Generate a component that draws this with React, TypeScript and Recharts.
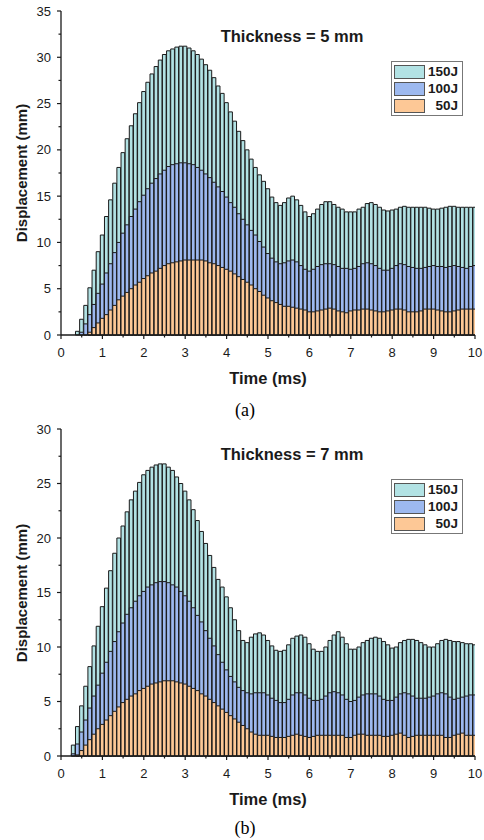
import React from 'react';
import { ComposedChart, Bar, XAxis, YAxis } from 'recharts';

// time stamps (ms), one bar every 0.1 ms
const times = [
  0.1, 0.2, 0.3, 0.4, 0.5, 0.6, 0.7, 0.8, 0.9, 1.0,
  1.1, 1.2, 1.3, 1.4, 1.5, 1.6, 1.7, 1.8, 1.9, 2.0,
  2.1, 2.2, 2.3, 2.4, 2.5, 2.6, 2.7, 2.8, 2.9, 3.0,
  3.1, 3.2, 3.3, 3.4, 3.5, 3.6, 3.7, 3.8, 3.9, 4.0,
  4.1, 4.2, 4.3, 4.4, 4.5, 4.6, 4.7, 4.8, 4.9, 5.0,
  5.1, 5.2, 5.3, 5.4, 5.5, 5.6, 5.7, 5.8, 5.9, 6.0,
  6.1, 6.2, 6.3, 6.4, 6.5, 6.6, 6.7, 6.8, 6.9, 7.0,
  7.1, 7.2, 7.3, 7.4, 7.5, 7.6, 7.7, 7.8, 7.9, 8.0,
  8.1, 8.2, 8.3, 8.4, 8.5, 8.6, 8.7, 8.8, 8.9, 9.0,
  9.1, 9.2, 9.3, 9.4, 9.5, 9.6, 9.7, 9.8, 9.9, 10.0,
];

// (a) thickness 5 mm
const a150 = [
  0, 0, 0, 0.4, 1.7, 3.2, 5.1, 7.0, 9.0, 10.8,
  12.8, 14.6, 16.4, 18.1, 19.7, 21.2, 22.6, 23.9, 25.1, 26.3,
  27.3, 28.2, 29.0, 29.7, 30.3, 30.7, 30.9, 31.1, 31.2, 31.2,
  31.0, 30.7, 30.3, 29.8, 29.2, 28.6, 27.8, 26.9, 26.1, 25.1,
  24.1, 23.1, 22.0, 21.0, 20.0, 19.0, 18.1, 17.3, 16.6, 15.8,
  14.9, 14.3, 14.0, 14.3, 14.8, 15.0, 14.6, 14.0, 13.3, 12.8,
  13.1, 13.6, 14.1, 14.4, 14.4, 14.1, 13.8, 13.6, 13.3, 13.3,
  13.3, 13.6, 13.8, 14.2, 14.3, 14.1, 13.8, 13.5, 13.4, 13.5,
  13.6, 13.8, 13.9, 13.8, 13.8, 13.8, 13.8, 13.8, 13.7, 13.6,
  13.6, 13.7, 13.8, 13.9, 13.9, 13.8, 13.8, 13.8, 13.8, 13.8,
];
const a100 = [
  0, 0, 0, 0, 0.3, 1.2, 2.2, 3.3, 4.5, 5.5,
  6.7, 7.7, 8.9, 10.0, 11.0, 11.9, 12.8, 13.6, 14.4, 15.1,
  15.8, 16.4, 16.9, 17.4, 17.8, 18.2, 18.4, 18.5, 18.6, 18.6,
  18.5, 18.4, 18.1, 17.8, 17.4, 17.0, 16.5, 16.0, 15.5, 14.9,
  14.3, 13.8, 13.1, 12.5, 11.9, 11.3, 10.8, 10.1, 9.5, 8.8,
  8.3, 7.9, 7.7, 7.8, 8.0, 8.1, 7.9, 7.5, 7.1, 6.9,
  7.1, 7.4, 7.6, 7.7, 7.7, 7.6, 7.4, 7.2, 7.2, 7.1,
  7.2, 7.4, 7.7, 7.8, 7.7, 7.5, 7.2, 7.0, 7.0, 7.2,
  7.5, 7.7, 7.6, 7.4, 7.3, 7.2, 7.2, 7.3, 7.4, 7.5,
  7.4, 7.4, 7.3, 7.4, 7.5, 7.4, 7.3, 7.2, 7.4, 7.5,
];
const a50 = [
  0, 0, 0, 0, 0, 0, 0.3, 0.8, 1.3, 1.8,
  2.2, 2.7, 3.2, 3.8, 4.2, 4.6, 5.0, 5.4, 5.7, 6.1,
  6.4, 6.7, 6.9, 7.2, 7.5, 7.7, 7.8, 7.9, 8.0, 8.1,
  8.1, 8.1, 8.1, 8.1, 8.0, 7.8, 7.7, 7.5, 7.3, 7.1,
  6.9, 6.6, 6.3, 6.0, 5.7, 5.4, 5.0, 4.7, 4.3, 4.0,
  3.7, 3.5, 3.3, 3.1, 3.1, 3.0, 2.9, 2.8, 2.7, 2.5,
  2.5, 2.6, 2.7, 2.8, 2.9, 2.8, 2.6, 2.5, 2.4, 2.6,
  2.7, 2.7, 2.8, 2.8, 2.7, 2.6, 2.5, 2.5, 2.6, 2.7,
  2.8, 2.8, 2.7, 2.5, 2.5, 2.5, 2.6, 2.8, 2.8, 2.8,
  2.7, 2.6, 2.5, 2.5, 2.6, 2.7, 2.8, 2.8, 2.8, 2.8,
];

// (b) thickness 7 mm
const b150 = [
  0, 0, 1.0, 2.7, 4.6, 6.4, 8.2, 10.1, 11.9, 13.7,
  15.4, 17.0, 18.6, 20.0, 21.1, 22.4, 23.5, 24.3, 25.1, 25.8,
  26.2, 26.5, 26.7, 26.8, 26.8, 26.5, 26.2, 25.6, 25.0, 24.3,
  23.5, 22.6, 21.6, 20.6, 19.5, 18.4, 17.3, 16.2, 15.5, 14.6,
  13.6, 12.5, 11.5, 10.6, 10.4, 10.9, 11.2, 11.3, 11.1, 10.6,
  10.1, 9.7, 9.6, 9.7, 10.2, 10.8, 11.0, 11.1, 10.9, 10.3,
  9.8, 9.6, 9.6, 10.0, 10.6, 11.1, 11.4, 10.9, 10.3, 9.8,
  9.8, 10.0, 10.4, 10.6, 10.8, 10.9, 10.8, 10.5, 10.2, 9.9,
  10.0, 10.4, 10.6, 10.7, 10.7, 10.6, 10.4, 10.2, 10.0, 10.0,
  10.3, 10.6, 10.7, 10.6, 10.5, 10.5, 10.4, 10.3, 10.3, 10.2,
];
const b100 = [
  0, 0, 0.2, 1.1, 2.2, 3.3, 4.4, 5.5, 6.5, 7.6,
  8.6, 9.6, 10.5, 11.4, 12.2, 13.0, 13.6, 14.2, 14.7, 15.1,
  15.5, 15.7, 15.9, 16.0, 16.0, 15.9, 15.7, 15.5, 15.1, 14.7,
  14.2, 13.6, 12.9, 12.3, 11.5, 10.8, 10.1, 9.3, 8.6, 7.9,
  7.3, 6.8, 6.3, 6.0, 5.8, 5.7, 5.8, 5.8, 5.8, 5.6,
  5.3, 5.1, 4.9, 4.9, 5.2, 5.6, 5.8, 5.8, 5.6, 5.3,
  5.1, 5.1, 5.2, 5.5, 5.8, 5.9, 5.8, 5.6, 5.2, 5.0,
  5.1, 5.4, 5.6, 5.7, 5.7, 5.7, 5.5, 5.2, 5.1, 5.1,
  5.4, 5.7, 5.8, 5.7, 5.5, 5.3, 5.3, 5.3, 5.4, 5.5,
  5.7, 5.8, 5.7, 5.4, 5.2, 5.3, 5.4, 5.5, 5.6, 5.6,
];
const b50 = [
  0, 0, 0, 0.1, 0.5, 1.0, 1.5, 2.0, 2.5, 2.9,
  3.3, 3.7, 4.1, 4.5, 4.9, 5.2, 5.5, 5.7, 6.0, 6.2,
  6.4, 6.6, 6.7, 6.8, 6.9, 6.9, 6.9, 6.8, 6.7, 6.6,
  6.4, 6.2, 6.0, 5.7, 5.5, 5.2, 4.9, 4.6, 4.3, 4.0,
  3.7, 3.4, 3.1, 2.8, 2.5, 2.2, 2.0, 1.9, 1.9, 1.9,
  1.8, 1.7, 1.7, 1.7, 1.8, 1.9, 2.0, 1.9, 1.8, 1.7,
  1.8, 1.9, 1.9, 1.9, 1.9, 1.9, 1.9, 1.9, 1.7, 1.7,
  1.9, 2.0, 2.0, 1.9, 1.9, 1.9, 1.9, 1.8, 1.8, 1.9,
  2.0, 2.1, 1.9, 1.7, 1.8, 1.9, 1.9, 1.9, 1.9, 1.9,
  1.9, 1.9, 1.7, 1.7, 1.9, 2.0, 2.1, 1.9, 1.9, 1.9,
];

const seriesNames = ['150J', '100J', '50J'];
const seriesColors = ['#b2e2e4', '#9db9ef', '#fdc896'];

const xTicks = [0, 0.5, 1, 1.5, 2, 2.5, 3, 3.5, 4, 4.5, 5, 5.5, 6, 6.5, 7, 7.5, 8, 8.5, 9, 9.5, 10];
const yTicksA = [0, 2.5, 5, 7.5, 10, 12.5, 15, 17.5, 20, 22.5, 25, 27.5, 30, 32.5, 35];
const yTicksB = [0, 2.5, 5, 7.5, 10, 12.5, 15, 17.5, 20, 22.5, 25, 27.5, 30];

const FONT = '"Liberation Sans", Arial, sans-serif';
const INK = '#1a1a1a';

const XTick = (props: any) => {
  const { x, y, payload } = props;
  const major = Number.isInteger(payload.value);
  return (
    <g>
      <line x1={x} x2={x} y1={y} y2={y + (major ? 4 : 2.5)} stroke={INK} strokeWidth={1.2} />
      {major && (
        <text x={x} y={y + 17} dy="0.35em" textAnchor="middle" fontSize={13} fontFamily={FONT} fill={INK}>
          {payload.value}
        </text>
      )}
    </g>
  );
};

const YTick = (props: any) => {
  const { x, y, payload } = props;
  const major = payload.value % 5 === 0;
  return (
    <g>
      <line x1={x - (major ? 4 : 2.5)} x2={x} y1={y} y2={y} stroke={INK} strokeWidth={1.2} />
      {major && (
        <text x={x - 10} y={y} dy="0.35em" textAnchor="end" fontSize={13} fontFamily={FONT} fill={INK}>
          {payload.value}
        </text>
      )}
    </g>
  );
};

function Panel({ s150, s100, s50, yMax, yTicks, title, caption, marginTop, marginBottom, captionTop }: any) {
  const rows = times.map((t, i) => ({ t, e150: s150[i], e100: s100[i], e50: s50[i] }));
  const plotTop = marginTop;
  const plotBottom = 420 - marginBottom - 20;
  return (
    <div style={{ position: 'relative', width: 484, height: 420 }}>
      <ComposedChart
        width={484}
        height={420}
        data={rows}
        margin={{ top: marginTop, right: 9, left: 21, bottom: marginBottom }}
      >
        <XAxis
          xAxisId="main"
          dataKey="t"
          type="number"
          domain={[0, 10]}
          ticks={xTicks}
          interval={0}
          allowDataOverflow
          tickSize={0}
          tickMargin={0}
          tick={<XTick />}
          height={20}
          axisLine={{ stroke: INK, strokeWidth: 1.3 }}
        />
        <XAxis xAxisId="x2" dataKey="t" type="number" domain={[0, 10]} allowDataOverflow hide />
        <XAxis xAxisId="x3" dataKey="t" type="number" domain={[0, 10]} allowDataOverflow hide />
        <XAxis
          xAxisId="frame"
          orientation="top"
          dataKey="t"
          type="number"
          domain={[0, 10]}
          tick={false}
          tickLine={false}
          height={0}
          axisLine={{ stroke: INK, strokeWidth: 1.3 }}
        />
        <YAxis
          type="number"
          domain={[0, yMax]}
          ticks={yTicks}
          interval={0}
          width={40}
          tickSize={0}
          tickMargin={0}
          tick={<YTick />}
          axisLine={{ stroke: INK, strokeWidth: 1.3 }}
        />
        <YAxis
          yAxisId="frame"
          orientation="right"
          width={0}
          tick={false}
          tickLine={false}
          axisLine={{ stroke: INK, strokeWidth: 1.3 }}
        />
        <Bar xAxisId="main" dataKey="e150" fill={seriesColors[0]} stroke={INK} strokeWidth={1} barSize={4.14} isAnimationActive={false} />
        <Bar xAxisId="x2" dataKey="e100" fill={seriesColors[1]} stroke={INK} strokeWidth={1} barSize={4.14} isAnimationActive={false} />
        <Bar xAxisId="x3" dataKey="e50" fill={seriesColors[2]} stroke={INK} strokeWidth={1} barSize={4.14} isAnimationActive={false} />
      </ComposedChart>

      <div style={{ position: 'absolute', left: 0, width: 584, top: plotTop + 16, textAlign: 'center', fontFamily: FONT, fontWeight: 'bold', fontSize: 16.5, color: INK, lineHeight: '19px' }}>
        {title}
      </div>

      <div style={{ position: 'absolute', left: 391, top: plotTop + 50, width: 70, border: '1px solid #777', background: '#fff', padding: '1px 0' }}>
        {seriesNames.map((name, i) => (
          <div key={name} style={{ display: 'flex', alignItems: 'center', height: 17 }}>
            <div style={{ width: 31, height: 14, marginLeft: 2, background: seriesColors[i], border: '1px solid #555', boxSizing: 'border-box' }} />
            <div style={{ flex: 1, textAlign: 'right', paddingRight: 4, fontFamily: FONT, fontWeight: 'bold', fontSize: 13.5, color: INK }}>{name}</div>
          </div>
        ))}
      </div>

      <div style={{ position: 'absolute', left: 22, top: (plotTop + plotBottom) / 2, transform: 'translate(-50%, -50%) rotate(-90deg)', whiteSpace: 'nowrap', fontFamily: FONT, fontWeight: 'bold', fontSize: 15, color: INK, lineHeight: '18px' }}>
        Displacement (mm)
      </div>

      <div style={{ position: 'absolute', left: 0, width: 536, top: plotBottom + 34, textAlign: 'center', fontFamily: FONT, fontWeight: 'bold', fontSize: 16.5, color: INK, lineHeight: '18px' }}>
        Time (ms)
      </div>

      <div style={{ position: 'absolute', left: 0, width: 490, top: captionTop, textAlign: 'center', fontFamily: '"Liberation Serif", "Times New Roman", serif', fontSize: 18, color: '#000', lineHeight: '20px' }}>
        {caption}
      </div>
    </div>
  );
}

export default function App() {
  return (
    <div style={{ width: 484, height: 840, background: '#fff', position: 'relative' }}>
      <style>{'body{margin:0}'}</style>
      <Panel s150={a150} s100={a100} s50={a50} yMax={35} yTicks={yTicksA} title="Thickness = 5 mm" caption="(a)" marginTop={11} marginBottom={65} captionTop={400} />
      <Panel s150={b150} s100={b100} s50={b50} yMax={30} yTicks={yTicksB} title="Thickness = 7 mm" caption="(b)" marginTop={9} marginBottom={64} captionTop={398} />
    </div>
  );
}
